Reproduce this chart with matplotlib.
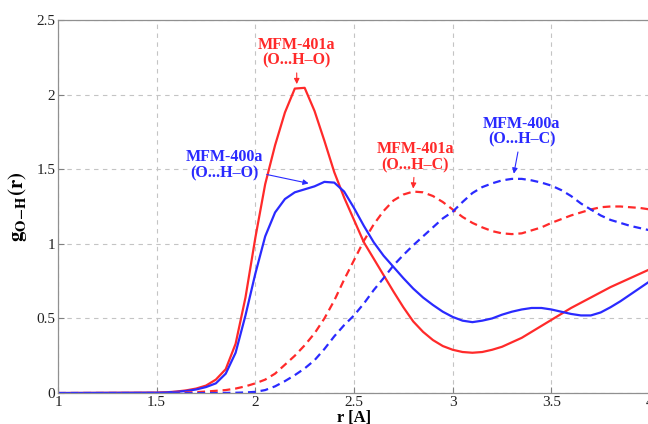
import numpy as np
import matplotlib
matplotlib.use("Agg")
import matplotlib.pyplot as plt

# r grid [A] and g(r) curves
r = [1.0, 1.5, 1.55, 1.6, 1.65, 1.7, 1.75, 1.8, 1.85, 1.9, 1.95,
     2.0, 2.05, 2.1, 2.15, 2.2, 2.25, 2.3, 2.35, 2.4, 2.45,
     2.5, 2.55, 2.6, 2.65, 2.7, 2.75, 2.8, 2.85, 2.9, 2.95,
     3.0, 3.05, 3.1, 3.15, 3.2, 3.25, 3.3, 3.35, 3.4, 3.45,
     3.5, 3.55, 3.6, 3.65, 3.7, 3.75, 3.8, 3.85, 3.9, 3.95, 4.0]

g401_OHO = [0.0, 0.003, 0.005, 0.01, 0.018, 0.03, 0.05, 0.09, 0.16, 0.33, 0.64,
            1.04, 1.40, 1.66, 1.88, 2.04, 2.045, 1.89, 1.69, 1.48, 1.31,
            1.16, 1.01, 0.90, 0.79, 0.68, 0.575, 0.48, 0.41, 0.355, 0.315,
            0.29, 0.275, 0.27, 0.275, 0.29, 0.31, 0.34, 0.37, 0.41, 0.45,
            0.49, 0.53, 0.57, 0.605, 0.64, 0.675, 0.71, 0.74, 0.77, 0.80, 0.83]

g400_OHO = [0.0, 0.002, 0.004, 0.008, 0.014, 0.024, 0.04, 0.065, 0.13, 0.27, 0.52,
            0.80, 1.05, 1.21, 1.30, 1.345, 1.365, 1.385, 1.415, 1.41, 1.35,
            1.24, 1.12, 1.01, 0.92, 0.845, 0.77, 0.70, 0.64, 0.59, 0.545,
            0.51, 0.485, 0.475, 0.485, 0.50, 0.525, 0.545, 0.56, 0.57, 0.57,
            0.56, 0.545, 0.53, 0.52, 0.52, 0.54, 0.575, 0.615, 0.66, 0.705, 0.75]

g401_OHC = [0.0, 0.0, 0.001, 0.002, 0.004, 0.006, 0.01, 0.015, 0.02, 0.03, 0.045,
            0.065, 0.09, 0.13, 0.19, 0.25, 0.32, 0.40, 0.50, 0.62, 0.76,
            0.89, 1.02, 1.13, 1.22, 1.29, 1.33, 1.35, 1.345, 1.32, 1.28,
            1.23, 1.18, 1.14, 1.11, 1.085, 1.07, 1.065, 1.07, 1.09, 1.11,
            1.14, 1.165, 1.19, 1.21, 1.23, 1.245, 1.25, 1.25, 1.245, 1.24, 1.23]

g400_OHC = [0.0, 0.0, 0.0, 0.0, 0.0, 0.0, 0.0, 0.0, 0.001, 0.002, 0.004,
            0.008, 0.02, 0.045, 0.08, 0.12, 0.165, 0.22, 0.295, 0.38, 0.455,
            0.52, 0.60, 0.69, 0.77, 0.855, 0.925, 0.99, 1.05, 1.11, 1.17,
            1.215, 1.28, 1.34, 1.38, 1.405, 1.425, 1.435, 1.435, 1.425, 1.41,
            1.39, 1.36, 1.32, 1.27, 1.23, 1.19, 1.16, 1.14, 1.12, 1.105, 1.09]

red = '#ff2a2a'
blue = '#2a2aff'

plt.rcParams['font.family'] = ['Liberation Serif', 'DejaVu Serif']
plt.rcParams['mathtext.fontset'] = 'stix'

fig = plt.figure(figsize=(6.48, 4.24), dpi=100)
ax = fig.add_axes([0.0895, 0.073, 0.9136, 0.88])

ax.plot(r, g401_OHO, color=red, lw=1.6)
ax.plot(r, g400_OHO, color=blue, lw=1.6)
ax.plot(r, g401_OHC, color=red, lw=1.6, dashes=(3.5, 2.2))
ax.plot(r, g400_OHC, color=blue, lw=1.6, dashes=(3.5, 2.2))

ax.set_xlim(1, 4)
ax.set_ylim(0, 2.5)
ax.set_xticks([1, 1.5, 2, 2.5, 3, 3.5, 4])
ax.set_xticklabels(['1', '1.5', '2', '2.5', '3', '3.5', '4'])
ax.set_yticks([0, 0.5, 1, 1.5, 2, 2.5])
ax.set_yticklabels(['0', '0.5', '1', '1.5', '2', '2.5'])
ax.tick_params(direction='in', length=4, width=0.8, color='#808080',
               labelsize=11, labelcolor='#222222', pad=2)
ax.grid(True, color='#c4c4c4', lw=0.8, dashes=(4, 4))
for s in ax.spines.values():
    s.set_color('#909090')
    s.set_linewidth(0.9)

ax.set_xlabel('r [A]', fontsize=12, fontweight='bold', labelpad=1)
ax.set_ylabel(r'$\mathbf{g_{O\!-\!H}(r)}$', fontsize=15, labelpad=5)

# peak labels
notes = [
    ('MFM-401a\n(O...H\u2013O)', red, (2.21, 2.07), (2.209, 2.28)),
    ('MFM-400a\n(O...H\u2013O)', blue, (2.27, 1.405), (1.841, 1.525)),
    ('MFM-401a\n(O...H\u2013C)', red, (2.80, 1.37), (2.81, 1.58)),
    ('MFM-400a\n(O...H\u2013C)', blue, (3.31, 1.47), (3.35, 1.75)),
]
for txt, col, xy, xyt in notes:
    ax.annotate(txt, xy=xy, xytext=xyt, color=col, fontsize=11.5,
                fontweight='bold', ha='center', va='center',
                multialignment='center', linespacing=1.0,
                arrowprops=dict(arrowstyle='-|>', color=col, lw=0.8,
                                mutation_scale=8, shrinkA=1, shrinkB=0))

fig.savefig('out.png', dpi=100)
